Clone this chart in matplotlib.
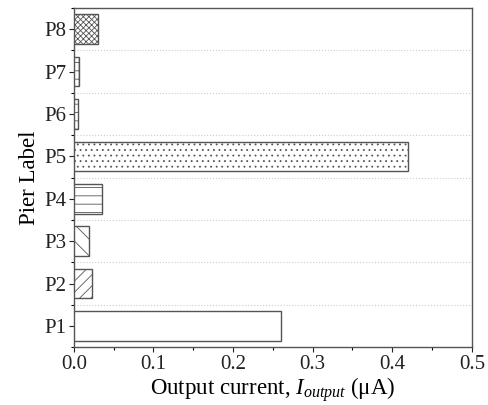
import numpy as np
import matplotlib
matplotlib.use('Agg')
from matplotlib import pyplot as plt
from matplotlib.ticker import MultipleLocator

# values
piers = ['P1', 'P2', 'P3', 'P4', 'P5', 'P6', 'P7', 'P8']
current = [0.26, 0.023, 0.019, 0.036, 0.42, 0.005, 0.006, 0.030]
hatches = ['', '///', '\\\\', '--', '...', '--', '++', 'xxxxxx']

plt.rcParams['font.family'] = ['Liberation Serif', 'DejaVu Serif']
plt.rcParams['mathtext.fontset'] = 'custom'
plt.rcParams['mathtext.rm'] = 'Liberation Serif'
plt.rcParams['mathtext.it'] = 'Liberation Serif:italic'
plt.rcParams['hatch.linewidth'] = 0.6
plt.rcParams['hatch.color'] = '#444444'

fig = plt.figure(figsize=(4.89, 4.05), dpi=100)
ax = fig.add_axes([0.151, 0.143, 0.814, 0.837])

pos = np.arange(1, len(piers) + 1)
for p, v, h in zip(pos, current, hatches):
    ax.barh(p, v, height=0.7, color='white', edgecolor='#555555',
            linewidth=1.0, hatch=h, zorder=3)

ax.set_xlim(0, 0.5)
ax.set_ylim(0.5, 8.5)
ax.set_yticks(pos)
ax.set_yticklabels(piers)
ax.yaxis.set_minor_locator(MultipleLocator(1, offset=0.5))
ax.xaxis.set_major_locator(MultipleLocator(0.1))
ax.xaxis.set_minor_locator(MultipleLocator(0.05))
ax.xaxis.set_major_formatter(plt.FormatStrFormatter('%.1f'))

for g in np.arange(1.5, 8.5, 1.0):
    ax.axhline(g, color='#cccccc', linestyle=':', linewidth=0.8, zorder=1)

ax.tick_params(which='major', direction='out', length=3.5, width=0.8,
               labelsize=15, colors='#222222', pad=2)
ax.tick_params(which='minor', direction='out', length=2.5, width=0.8)
for s in ax.spines.values():
    s.set_color('#555555')
    s.set_linewidth(1.0)

ax.set_ylabel('Pier Label', fontsize=16.5, labelpad=3)
ax.set_xlabel(r'Output current, $I_{output}$ ($\mathrm{\mu}$A)',
              fontsize=16.5, labelpad=1)

fig.savefig('out.png', dpi=100)
